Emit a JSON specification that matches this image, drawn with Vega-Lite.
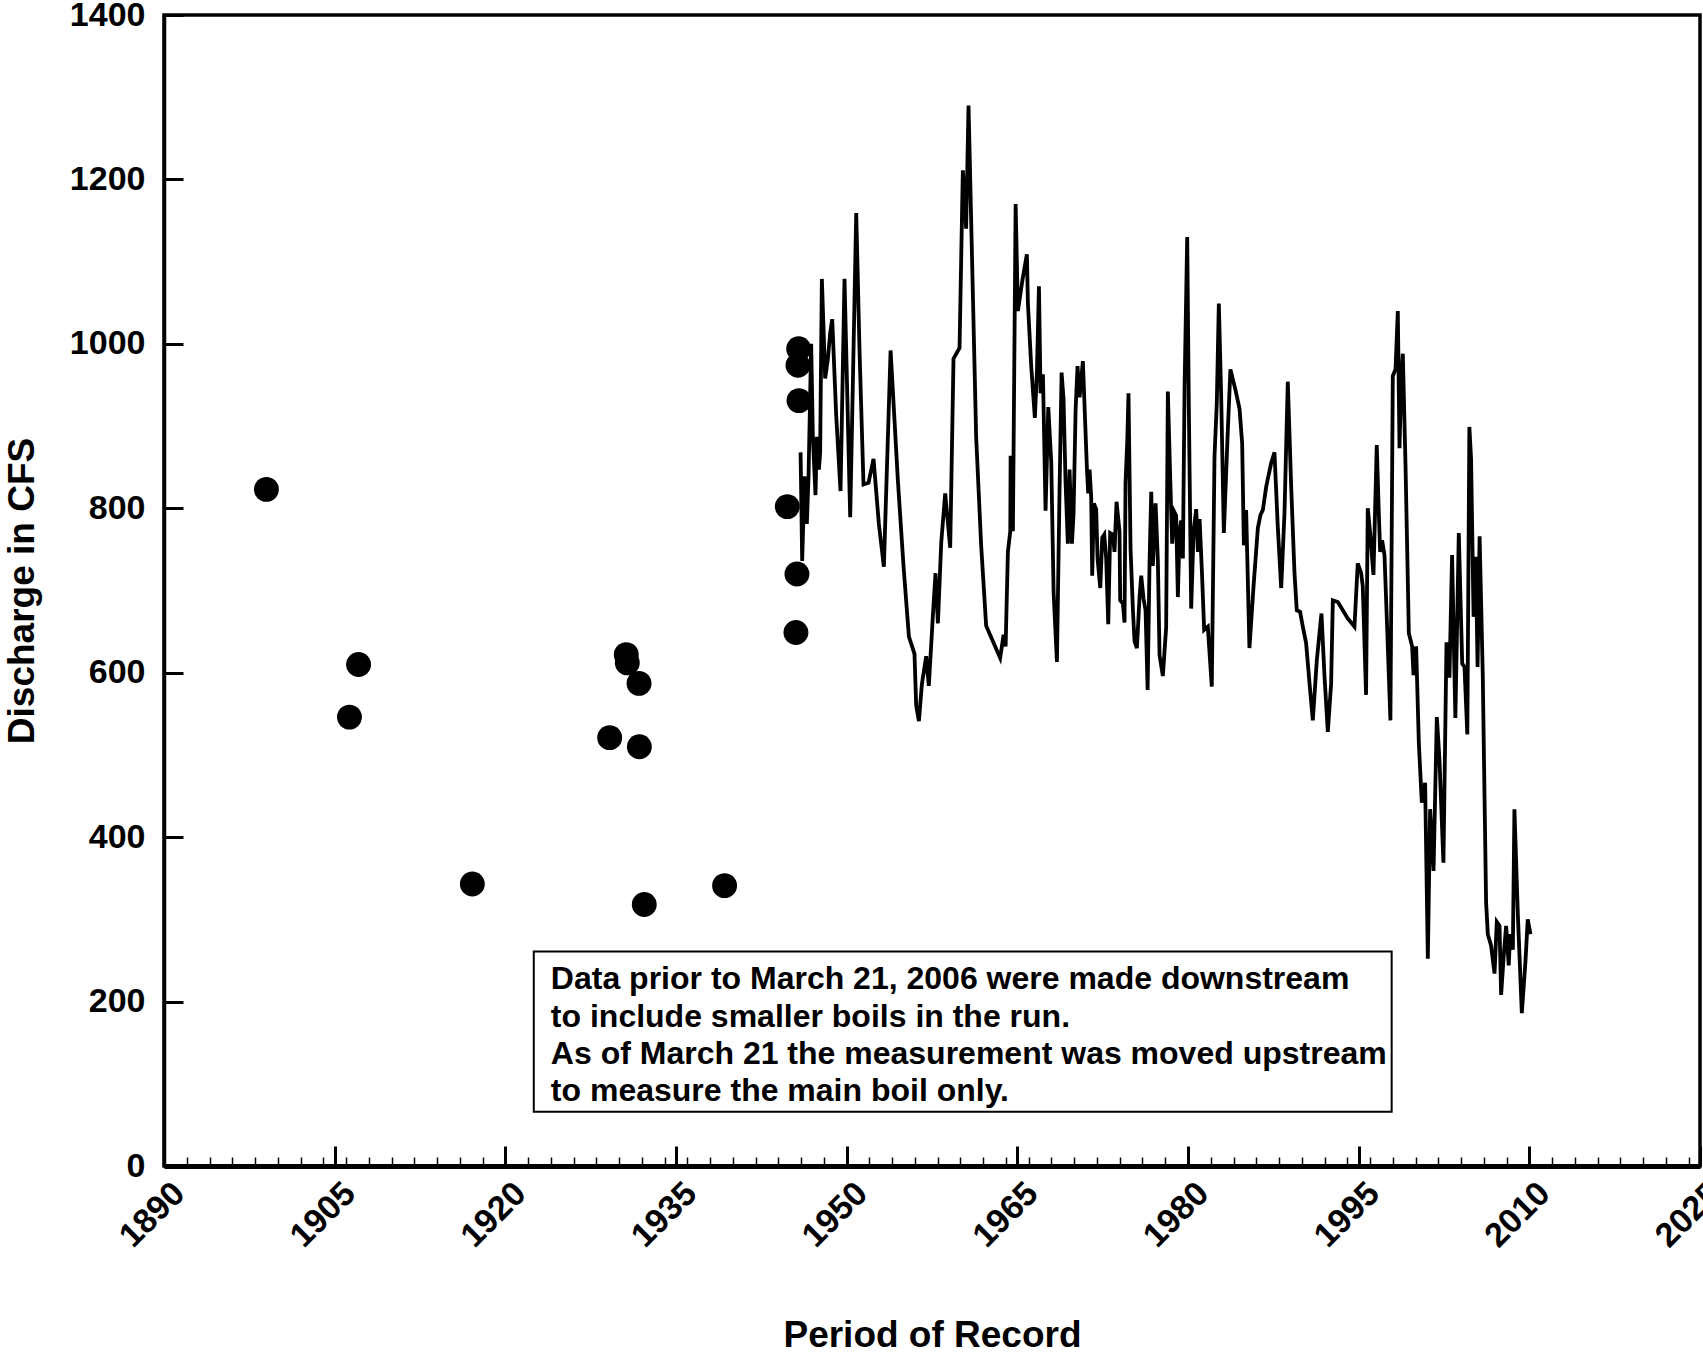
{
  "$schema": "https://vega.github.io/schema/vega-lite/v6.json",
  "width": 1536,
  "height": 1151,
  "autosize": {"type": "none"},
  "padding": {"left": 164, "top": 15, "right": 3, "bottom": 189},
  "background": "white",
  "config": {
    "view": {"stroke": "black", "strokeWidth": 3.5},
    "font": "Liberation Sans",
    "axis": {
      "grid": false,
      "labelFont": "Liberation Sans",
      "labelFontWeight": "bold",
      "labelFontSize": 34,
      "labelColor": "black",
      "titleFont": "Liberation Sans",
      "titleFontWeight": "bold",
      "titleFontSize": 37,
      "titleColor": "black",
      "domainColor": "black",
      "tickColor": "black"
    }
  },
  "datasets": {
    "box": [{"x1": 1922.5, "x2": 1997.9, "top": 261, "bottom": 66}],
    "notes": [
      {"year": 1924.0, "cfs": 227, "label": "Data prior to March 21, 2006 were made downstream"},
      {"year": 1924.0, "cfs": 181, "label": "to include smaller boils in the run."},
      {"year": 1924.0, "cfs": 136, "label": "As of March 21 the measurement was moved upstream"},
      {"year": 1924.0, "cfs": 91, "label": "to measure the main boil only."}
    ],
    "spot": [
      {"year": 1899.0, "cfs": 823},
      {"year": 1906.3, "cfs": 546},
      {"year": 1907.1, "cfs": 610},
      {"year": 1917.1, "cfs": 343},
      {"year": 1929.17, "cfs": 521},
      {"year": 1930.63, "cfs": 622},
      {"year": 1930.72, "cfs": 612},
      {"year": 1931.75, "cfs": 587},
      {"year": 1931.78, "cfs": 510},
      {"year": 1932.21, "cfs": 318},
      {"year": 1939.27, "cfs": 341},
      {"year": 1944.78, "cfs": 802},
      {"year": 1945.54, "cfs": 649},
      {"year": 1945.63, "cfs": 720},
      {"year": 1945.81, "cfs": 931},
      {"year": 1945.72, "cfs": 974},
      {"year": 1945.78, "cfs": 994}
    ],
    "flow": [
      {"year": 1945.95, "cfs": 868}, {"year": 1946.09, "cfs": 736}, {"year": 1946.30, "cfs": 839},
      {"year": 1946.50, "cfs": 781}, {"year": 1946.65, "cfs": 839}, {"year": 1946.88, "cfs": 1000},
      {"year": 1947.03, "cfs": 887}, {"year": 1947.26, "cfs": 816}, {"year": 1947.38, "cfs": 887},
      {"year": 1947.56, "cfs": 847}, {"year": 1947.67, "cfs": 868}, {"year": 1947.82, "cfs": 1079},
      {"year": 1948.11, "cfs": 958}, {"year": 1948.35, "cfs": 982}, {"year": 1948.55, "cfs": 1013},
      {"year": 1948.73, "cfs": 1030}, {"year": 1949.08, "cfs": 913}, {"year": 1949.46, "cfs": 821},
      {"year": 1949.81, "cfs": 1079}, {"year": 1950.31, "cfs": 789}, {"year": 1950.84, "cfs": 1159},
      {"year": 1951.13, "cfs": 992}, {"year": 1951.48, "cfs": 829}, {"year": 1951.92, "cfs": 831},
      {"year": 1952.36, "cfs": 860}, {"year": 1952.83, "cfs": 781}, {"year": 1953.27, "cfs": 729},
      {"year": 1953.86, "cfs": 992}, {"year": 1954.50, "cfs": 834}, {"year": 1955.00, "cfs": 729},
      {"year": 1955.47, "cfs": 644}, {"year": 1955.96, "cfs": 623}, {"year": 1956.11, "cfs": 560},
      {"year": 1956.35, "cfs": 541}, {"year": 1956.61, "cfs": 586}, {"year": 1956.99, "cfs": 620},
      {"year": 1957.22, "cfs": 584}, {"year": 1957.58, "cfs": 670}, {"year": 1957.81, "cfs": 721},
      {"year": 1958.02, "cfs": 660}, {"year": 1958.31, "cfs": 758}, {"year": 1958.66, "cfs": 818},
      {"year": 1959.10, "cfs": 752}, {"year": 1959.39, "cfs": 982}, {"year": 1959.92, "cfs": 995},
      {"year": 1960.21, "cfs": 1211}, {"year": 1960.50, "cfs": 1140}, {"year": 1960.71, "cfs": 1290},
      {"year": 1961.38, "cfs": 887}, {"year": 1961.82, "cfs": 755}, {"year": 1962.26, "cfs": 657},
      {"year": 1963.49, "cfs": 618}, {"year": 1963.79, "cfs": 646}, {"year": 1963.97, "cfs": 632},
      {"year": 1964.17, "cfs": 747}, {"year": 1964.38, "cfs": 772}, {"year": 1964.41, "cfs": 864},
      {"year": 1964.61, "cfs": 772}, {"year": 1964.85, "cfs": 1170}, {"year": 1965.05, "cfs": 1040},
      {"year": 1965.43, "cfs": 1076}, {"year": 1965.84, "cfs": 1109}, {"year": 1965.93, "cfs": 1049},
      {"year": 1966.22, "cfs": 973}, {"year": 1966.54, "cfs": 910}, {"year": 1966.72, "cfs": 965},
      {"year": 1966.90, "cfs": 1070}, {"year": 1967.04, "cfs": 940}, {"year": 1967.25, "cfs": 963},
      {"year": 1967.48, "cfs": 797}, {"year": 1967.72, "cfs": 923}, {"year": 1967.98, "cfs": 856},
      {"year": 1968.19, "cfs": 697}, {"year": 1968.48, "cfs": 613}, {"year": 1968.71, "cfs": 822},
      {"year": 1968.89, "cfs": 965}, {"year": 1969.06, "cfs": 933}, {"year": 1969.24, "cfs": 831},
      {"year": 1969.44, "cfs": 757}, {"year": 1969.59, "cfs": 847}, {"year": 1969.80, "cfs": 757},
      {"year": 1969.94, "cfs": 793}, {"year": 1970.12, "cfs": 919}, {"year": 1970.29, "cfs": 973},
      {"year": 1970.47, "cfs": 935}, {"year": 1970.76, "cfs": 979}, {"year": 1971.11, "cfs": 850},
      {"year": 1971.23, "cfs": 818}, {"year": 1971.35, "cfs": 847}, {"year": 1971.49, "cfs": 814},
      {"year": 1971.58, "cfs": 718}, {"year": 1971.73, "cfs": 806}, {"year": 1971.93, "cfs": 799},
      {"year": 1972.05, "cfs": 739}, {"year": 1972.29, "cfs": 703}, {"year": 1972.46, "cfs": 764},
      {"year": 1972.64, "cfs": 768}, {"year": 1972.81, "cfs": 739}, {"year": 1972.99, "cfs": 659},
      {"year": 1973.16, "cfs": 770}, {"year": 1973.40, "cfs": 768}, {"year": 1973.54, "cfs": 747},
      {"year": 1973.72, "cfs": 808}, {"year": 1973.98, "cfs": 772}, {"year": 1974.04, "cfs": 688},
      {"year": 1974.28, "cfs": 684}, {"year": 1974.42, "cfs": 661}, {"year": 1974.51, "cfs": 831},
      {"year": 1974.66, "cfs": 881}, {"year": 1974.77, "cfs": 940}, {"year": 1974.95, "cfs": 751},
      {"year": 1975.16, "cfs": 676}, {"year": 1975.30, "cfs": 638}, {"year": 1975.51, "cfs": 630},
      {"year": 1975.74, "cfs": 692}, {"year": 1975.89, "cfs": 718}, {"year": 1976.09, "cfs": 690},
      {"year": 1976.27, "cfs": 676}, {"year": 1976.45, "cfs": 579}, {"year": 1976.62, "cfs": 734},
      {"year": 1976.77, "cfs": 820}, {"year": 1976.91, "cfs": 730}, {"year": 1977.15, "cfs": 806},
      {"year": 1977.35, "cfs": 737}, {"year": 1977.50, "cfs": 621}, {"year": 1977.79, "cfs": 596},
      {"year": 1978.08, "cfs": 655}, {"year": 1978.23, "cfs": 942}, {"year": 1978.44, "cfs": 835},
      {"year": 1978.61, "cfs": 757}, {"year": 1978.82, "cfs": 795}, {"year": 1978.96, "cfs": 791},
      {"year": 1979.11, "cfs": 692}, {"year": 1979.26, "cfs": 772}, {"year": 1979.40, "cfs": 785},
      {"year": 1979.55, "cfs": 739}, {"year": 1979.70, "cfs": 948}, {"year": 1979.93, "cfs": 1130},
      {"year": 1980.08, "cfs": 915}, {"year": 1980.28, "cfs": 678}, {"year": 1980.49, "cfs": 772},
      {"year": 1980.72, "cfs": 799}, {"year": 1980.87, "cfs": 747}, {"year": 1981.02, "cfs": 787},
      {"year": 1981.24, "cfs": 717}, {"year": 1981.42, "cfs": 652}, {"year": 1981.74, "cfs": 656},
      {"year": 1982.09, "cfs": 583}, {"year": 1982.33, "cfs": 863}, {"year": 1982.53, "cfs": 928},
      {"year": 1982.71, "cfs": 1049}, {"year": 1982.91, "cfs": 940}, {"year": 1983.15, "cfs": 770},
      {"year": 1983.50, "cfs": 895}, {"year": 1983.73, "cfs": 969}, {"year": 1984.17, "cfs": 944},
      {"year": 1984.53, "cfs": 921}, {"year": 1984.76, "cfs": 879}, {"year": 1984.91, "cfs": 755},
      {"year": 1985.11, "cfs": 798}, {"year": 1985.40, "cfs": 630}, {"year": 1985.76, "cfs": 705},
      {"year": 1986.14, "cfs": 776}, {"year": 1986.37, "cfs": 792}, {"year": 1986.58, "cfs": 798},
      {"year": 1986.87, "cfs": 826}, {"year": 1987.31, "cfs": 855}, {"year": 1987.60, "cfs": 868},
      {"year": 1987.89, "cfs": 778}, {"year": 1988.19, "cfs": 703}, {"year": 1988.48, "cfs": 794},
      {"year": 1988.77, "cfs": 954}, {"year": 1989.07, "cfs": 826}, {"year": 1989.36, "cfs": 721},
      {"year": 1989.56, "cfs": 676}, {"year": 1989.85, "cfs": 674}, {"year": 1990.09, "cfs": 656},
      {"year": 1990.38, "cfs": 636}, {"year": 1990.68, "cfs": 587}, {"year": 1990.97, "cfs": 542},
      {"year": 1991.32, "cfs": 615}, {"year": 1991.73, "cfs": 672}, {"year": 1992.00, "cfs": 595},
      {"year": 1992.29, "cfs": 528}, {"year": 1992.58, "cfs": 587}, {"year": 1992.73, "cfs": 688},
      {"year": 1993.17, "cfs": 686}, {"year": 1993.61, "cfs": 676}, {"year": 1994.04, "cfs": 666},
      {"year": 1994.63, "cfs": 656}, {"year": 1994.92, "cfs": 733}, {"year": 1995.22, "cfs": 721},
      {"year": 1995.36, "cfs": 705}, {"year": 1995.65, "cfs": 573}, {"year": 1995.80, "cfs": 800},
      {"year": 1996.01, "cfs": 770}, {"year": 1996.30, "cfs": 719}, {"year": 1996.59, "cfs": 877},
      {"year": 1996.77, "cfs": 794}, {"year": 1996.89, "cfs": 747}, {"year": 1997.06, "cfs": 761},
      {"year": 1997.27, "cfs": 743}, {"year": 1997.50, "cfs": 656}, {"year": 1997.79, "cfs": 542},
      {"year": 1998.00, "cfs": 961}, {"year": 1998.24, "cfs": 969}, {"year": 1998.44, "cfs": 1040},
      {"year": 1998.59, "cfs": 873}, {"year": 1998.74, "cfs": 958}, {"year": 1998.88, "cfs": 988},
      {"year": 1999.12, "cfs": 851}, {"year": 1999.41, "cfs": 648}, {"year": 1999.70, "cfs": 632},
      {"year": 1999.82, "cfs": 597}, {"year": 2000.05, "cfs": 632}, {"year": 2000.29, "cfs": 514},
      {"year": 2000.55, "cfs": 442}, {"year": 2000.84, "cfs": 466}, {"year": 2001.08, "cfs": 252},
      {"year": 2001.28, "cfs": 434}, {"year": 2001.58, "cfs": 359}, {"year": 2001.87, "cfs": 546},
      {"year": 2002.10, "cfs": 495}, {"year": 2002.45, "cfs": 369}, {"year": 2002.72, "cfs": 637},
      {"year": 2002.98, "cfs": 594}, {"year": 2003.21, "cfs": 743}, {"year": 2003.50, "cfs": 545},
      {"year": 2003.80, "cfs": 770}, {"year": 2004.10, "cfs": 611}, {"year": 2004.30, "cfs": 607},
      {"year": 2004.55, "cfs": 525}, {"year": 2004.73, "cfs": 899}, {"year": 2004.88, "cfs": 860},
      {"year": 2005.10, "cfs": 668}, {"year": 2005.30, "cfs": 741}, {"year": 2005.45, "cfs": 607},
      {"year": 2005.63, "cfs": 766}, {"year": 2005.91, "cfs": 595}, {"year": 2006.06, "cfs": 451},
      {"year": 2006.20, "cfs": 321}, {"year": 2006.35, "cfs": 282}, {"year": 2006.64, "cfs": 268},
      {"year": 2006.94, "cfs": 234}, {"year": 2007.14, "cfs": 297}, {"year": 2007.38, "cfs": 292},
      {"year": 2007.52, "cfs": 208}, {"year": 2007.76, "cfs": 258}, {"year": 2007.96, "cfs": 292},
      {"year": 2008.19, "cfs": 244}, {"year": 2008.31, "cfs": 282}, {"year": 2008.55, "cfs": 263},
      {"year": 2008.69, "cfs": 434}, {"year": 2008.99, "cfs": 306}, {"year": 2009.34, "cfs": 186},
      {"year": 2009.66, "cfs": 249}, {"year": 2009.86, "cfs": 300}, {"year": 2010.10, "cfs": 282}
    ]
  },
  "layer": [
    {
      "data": {"name": "box"},
      "mark": {"type": "rect", "fill": "white", "stroke": "black", "strokeWidth": 2},
      "encoding": {
        "x": {"field": "x1", "type": "quantitative", "axis": null, "scale": {"domain": [1890, 2025], "nice": false, "zero": false}},
        "x2": {"field": "x2"},
        "y": {"field": "top", "type": "quantitative", "axis": null, "scale": {"domain": [0, 1400], "nice": false}},
        "y2": {"field": "bottom"}
      }
    },
    {
      "data": {"name": "notes"},
      "mark": {"type": "text", "align": "left", "baseline": "middle", "font": "Liberation Sans", "fontWeight": "bold", "fontSize": 32, "color": "black"},
      "encoding": {
        "x": {"field": "year", "type": "quantitative", "axis": null},
        "y": {"field": "cfs", "type": "quantitative", "axis": null},
        "text": {"field": "label"}
      }
    },
    {
      "data": {"name": "spot"},
      "mark": {"type": "circle", "size": 620, "opacity": 1, "color": "black"},
      "encoding": {
        "x": {
          "field": "year", "type": "quantitative",
          "axis": {
            "orient": "bottom",
            "values": [1892, 1894, 1896, 1898, 1900, 1902, 1904, 1906, 1908, 1910, 1912, 1914, 1916, 1918, 1920, 1922, 1924, 1926, 1928, 1930, 1932, 1934, 1936, 1938, 1940, 1942, 1944, 1946, 1948, 1950, 1952, 1954, 1956, 1958, 1960, 1962, 1964, 1966, 1968, 1970, 1972, 1974, 1976, 1978, 1980, 1982, 1984, 1986, 1988, 1990, 1992, 1994, 1996, 1998, 2000, 2002, 2004, 2006, 2008, 2010, 2012, 2014, 2016, 2018, 2020, 2022, 2024],
            "labels": false,
            "domain": false,
            "tickSize": -9,
            "tickWidth": 1.5,
            "title": null
          }
        },
        "y": {"field": "cfs", "type": "quantitative", "axis": null}
      }
    },
    {
      "data": {"name": "flow"},
      "mark": {"type": "line", "color": "black", "strokeWidth": 3.8},
      "encoding": {
        "x": {
          "field": "year", "type": "quantitative",
          "axis": {
            "orient": "bottom",
            "values": [1890, 1905, 1920, 1935, 1950, 1965, 1980, 1995, 2010, 2025],
            "format": "d",
            "labelAngle": -45,
            "labelAlign": "right",
            "labelBaseline": "top",
            "labelPadding": 30,
            "labelOffset": 3,
            "labelFlush": false,
            "labelOverlap": false,
            "labelBound": false,
            "tickSize": -20,
            "tickWidth": 3,
            "domainWidth": 5,
            "title": "Period of Record",
            "titlePadding": 64
          }
        },
        "y": {
          "field": "cfs", "type": "quantitative",
          "axis": {
            "orient": "left",
            "values": [0, 200, 400, 600, 800, 1000, 1200, 1400],
            "format": "d",
            "tickSize": -19,
            "tickWidth": 3,
            "domainWidth": 3.5,
            "labelPadding": 38,
            "labelFlush": false,
            "labelOverlap": false,
            "title": "Discharge in CFS",
            "titlePadding": 28
          }
        }
      }
    }
  ],
  "resolve": {"axis": {"x": "independent", "y": "independent"}}
}
